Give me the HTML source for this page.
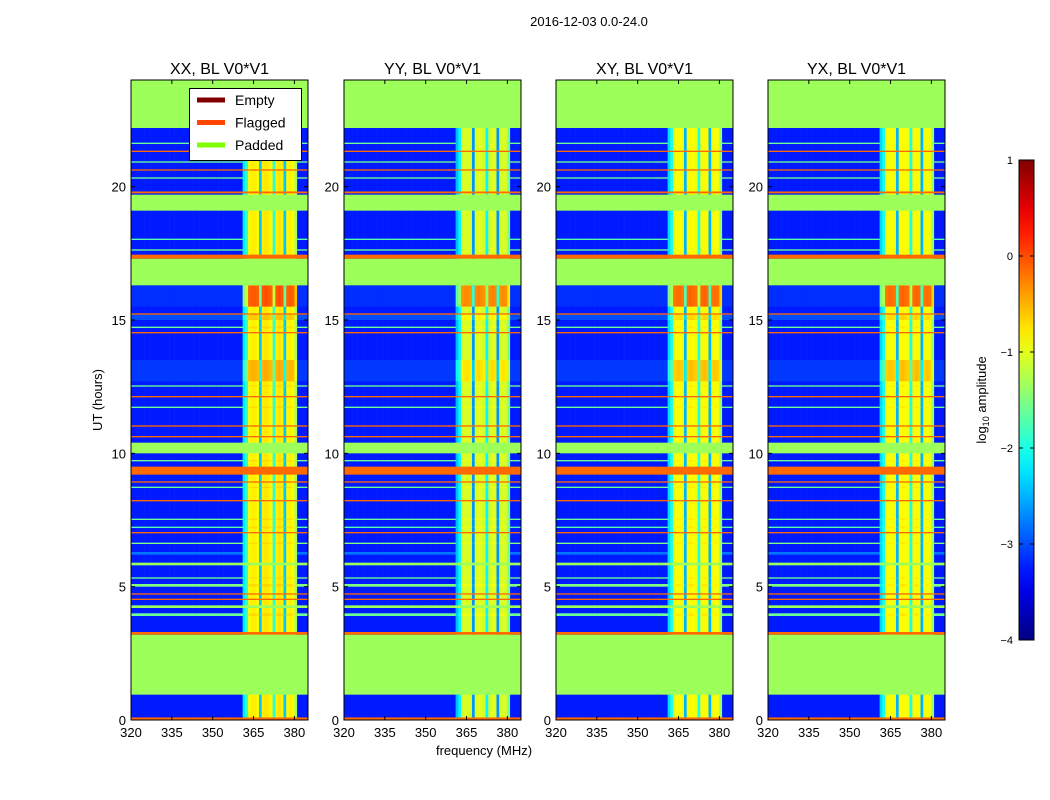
<!DOCTYPE html>
<html><head><meta charset="utf-8">
<style>
body{margin:0;background:#fff;}
svg{display:block;font-family:"Liberation Sans",sans-serif;}
</style></head>
<body>
<svg id="fig" width="1050" height="800" xmlns="http://www.w3.org/2000/svg">
<text x="589" y="26" font-size="13" text-anchor="middle">2016-12-03 0.0-24.0</text>
<text transform="translate(102,400) rotate(-90)" font-size="13" text-anchor="middle">UT (hours)</text>
<text x="484" y="755" font-size="13" text-anchor="middle">frequency (MHz)</text>
<g id="panels"></g>
<g id="cbar"></g>
<text transform="translate(986,400) rotate(-90)" font-size="13" text-anchor="middle">log<tspan font-size="9" dy="3">10</tspan><tspan dy="-3"> amplitude</tspan></text>
</svg>
<script>
const NS="http://www.w3.org/2000/svg";
// ---- data ----
const panelTitles=["XX, BL V0*V1","YY, BL V0*V1","XY, BL V0*V1","YX, BL V0*V1"];
const panelRfiGain=[0,-0.25,-0.1,-0.1];
const xTicks=[320,335,350,365,380];
const yTicks=[0,5,10,15,20];
const cbarTicks=[1,0,-1,-2,-3,-4];
const baseLevel=-3.25;
// row bands: start hour, end hour, kind (P padded, F flagged, D data), level, rfi boost
const bandStart=[0,0.1,0.95,3.2,3.3,3.9,4.2,4.5,4.7,5.0,5.3,5.8,6.2,6.6,7.0,7.2,7.5,8.2,8.7,8.9,9.2,9.7,10.0,10.6,11.0,11.7,12.1,12.5,12.7,14.5,14.7,15.0,15.2,15.5,16.3,17.3,17.6,18.0,19.1,19.75,20.3,20.6,20.9,21.3,21.6,22.2];
const bandEnd  =[0.1,0.95,3.2,3.3,3.9,4.0,4.3,4.55,4.75,5.1,5.35,5.9,6.3,6.65,7.05,7.25,7.55,8.25,8.75,8.95,9.5,9.75,10.4,10.65,11.05,11.75,12.15,12.55,13.5,14.55,14.75,15.2,15.25,16.3,17.3,17.45,17.65,18.05,19.7,19.82,20.35,20.65,20.95,21.35,21.65,24];
const bandKind =["F","D","P","F","D","D","P","F","F","D","D","P","D","D","F","D","D","F","D","F","F","D","P","F","F","D","F","D","D","F","D","D","F","D","P","F","D","D","P","F","D","F","D","F","D","P"];
const bandLevel=[0,-3.25,0,0,-3.25,-1.6,0,0,0,-1.5,-1.6,0,-2.8,-1.5,0,-1.7,-1.6,0,-1.6,0,0,-1.6,0,0,0,-1.6,0,-1.6,-3.1,0,-1.6,-3.0,0,-3.15,0,0,-1.6,-1.7,0,0,-1.6,0,-1.6,0,-1.6,0];
const bandBoost=[0,0,0,0,0,0.1,0,0,0,0.1,0.1,0,0,0.1,0,0.1,0.1,0,0.1,0,0,0.1,0,0,0,0.1,0,0.1,0.3,0,0.1,0.2,0,0.75,0,0,0,0,0,0,0,0,0,0,0,0];
// channel profile (1 MHz channels from 320): null = quiet channel, else RFI log amplitude
const chanLevel=[null,null,null,null,null,null,null,null,null,null,null,null,null,null,null,null,null,null,null,null,null,null,null,null,null,null,null,null,null,null,null,null,null,null,null,null,null,null,null,null,null,-2.2,-1.9,-0.85,-0.8,-0.8,-0.85,-2.4,-0.8,-0.75,-0.8,-0.85,-1.9,-0.8,-0.75,-0.8,-2.4,-0.85,-0.8,-0.85,-1.3,null,null,null,null];
// ---- axes ----
const panelX=[131,344,556,768], PW=177, PT=80, PB=720;
const xMin=320,xMax=385,yMin=0,yMax=24;
function jet(v){let t=(v+4)/5;t=Math.max(0,Math.min(1,t));
 const c=x=>Math.round(255*Math.max(0,Math.min(1,x)));
 return `rgb(${c(1.5-Math.abs(4*t-3))},${c(1.5-Math.abs(4*t-2))},${c(1.5-Math.abs(4*t-1))})`;}
const PAD="#9cff5a", FLAG="#ff6a00";
function mk(tag,attrs,parent){const e=document.createElementNS(NS,tag);for(const k in attrs)e.setAttribute(k,attrs[k]);parent.appendChild(e);return e;}
const panels=document.getElementById("panels");
panelX.forEach((px,pi)=>{
 const sx=f=>px+(f-xMin)/(xMax-xMin)*PW;
 const sy=h=>PB-(h-yMin)/(yMax-yMin)*(PB-PT);
 const g=mk("g",{},panels);
 
 
 for(let c=0;c<chanLevel.length;c++){
  const v=chanLevel[c]===null?baseLevel:chanLevel[c]+panelRfiGain[pi];
  const r=mk("rect",{x:sx(xMin+c),y:PT,width:sx(xMin+c+1)-sx(xMin+c)+0.3,height:PB-PT,fill:jet(v)},g);
  
  
 }
 for(let b=0;b<bandStart.length;b++){
  const y0=sy(bandEnd[b]),h=Math.max(1,sy(bandStart[b])-sy(bandEnd[b]));
  if(bandKind[b]!=="D"){
   const r=mk("rect",{x:px,y:y0,width:PW,height:h,fill:bandKind[b]==="P"?PAD:FLAG},g);
   
   
  } else {
   for(let c=0;c<chanLevel.length;c++){
    const v=chanLevel[c]===null?bandLevel[b]:chanLevel[c]+panelRfiGain[pi]+bandBoost[b];
    const r=mk("rect",{x:sx(xMin+c),y:y0,width:sx(xMin+c+1)-sx(xMin+c)+0.3,height:h,fill:jet(v)},g);
    
    
   }
  }
 }
 const fr=mk("rect",{x:px,y:PT,width:PW,height:PB-PT,fill:"none",stroke:"#000","stroke-width":1},g);
 
 
 const tt=mk("text",{x:px+PW/2,y:74,"font-size":16,"text-anchor":"middle"},g);tt.textContent=panelTitles[pi];
 
 
 xTicks.forEach(t=>{const x=sx(t);
  mk("line",{x1:x,x2:x,y1:PB,y2:PB-4,stroke:"#000"},g);mk("line",{x1:x,x2:x,y1:PT,y2:PT+4,stroke:"#000"},g);
  const l=mk("text",{x:x,y:PB+17,"font-size":13,"text-anchor":"middle"},g);l.textContent=t;
  
  });
 yTicks.forEach(t=>{const y=sy(t);
  mk("line",{x1:px,x2:px+4,y1:y,y2:y,stroke:"#000"},g);mk("line",{x1:px+PW,x2:px+PW-4,y1:y,y2:y,stroke:"#000"},g);
  const l=mk("text",{x:px-5,y:y+5,"font-size":13,"text-anchor":"end"},g);l.textContent=t;
  
  });
});
const lg=mk("g",{},panels);


mk("rect",{x:189.5,y:88.5,width:112,height:72,fill:"#fff",stroke:"#000"},lg);
[["Empty","#800000"],["Flagged","#ff4500"],["Padded","#7fff00"]].forEach((e,i)=>{
 const y=100+i*22.5;
 const ln=mk("line",{x1:197,x2:225,y1:y,y2:y,stroke:e[1],"stroke-width":5},lg);
 
 
 const t=mk("text",{x:235,y:y+5,"font-size":14},lg);t.textContent=e[0];
 
 
});
const cb=document.getElementById("cbar");
const defs=mk("defs",{},cb);
const gr=mk("linearGradient",{id:"jetg",x1:0,y1:1,x2:0,y2:0},defs);
for(let i=0;i<=20;i++){mk("stop",{offset:i/20,"stop-color":jet(-4+5*i/20)},gr);}
const cT=160,cB=640,cX=1019,cW=15;
mk("rect",{x:cX,y:cT,width:cW,height:cB-cT,fill:"url(#jetg)",stroke:"#000"},cb);
cbarTicks.forEach(v=>{const y=cB-(v+4)/5*(cB-cT);
 mk("line",{x1:cX,x2:cX+4,y1:y,y2:y,stroke:"#000"},cb);mk("line",{x1:cX+cW,x2:cX+cW-4,y1:y,y2:y,stroke:"#000"},cb);
 const t=mk("text",{x:1013,y:y+4,"font-size":11,"text-anchor":"end"},cb);t.textContent=(v<0?"\u2212"+(-v):v);
 
 });
</script>
</body></html>
